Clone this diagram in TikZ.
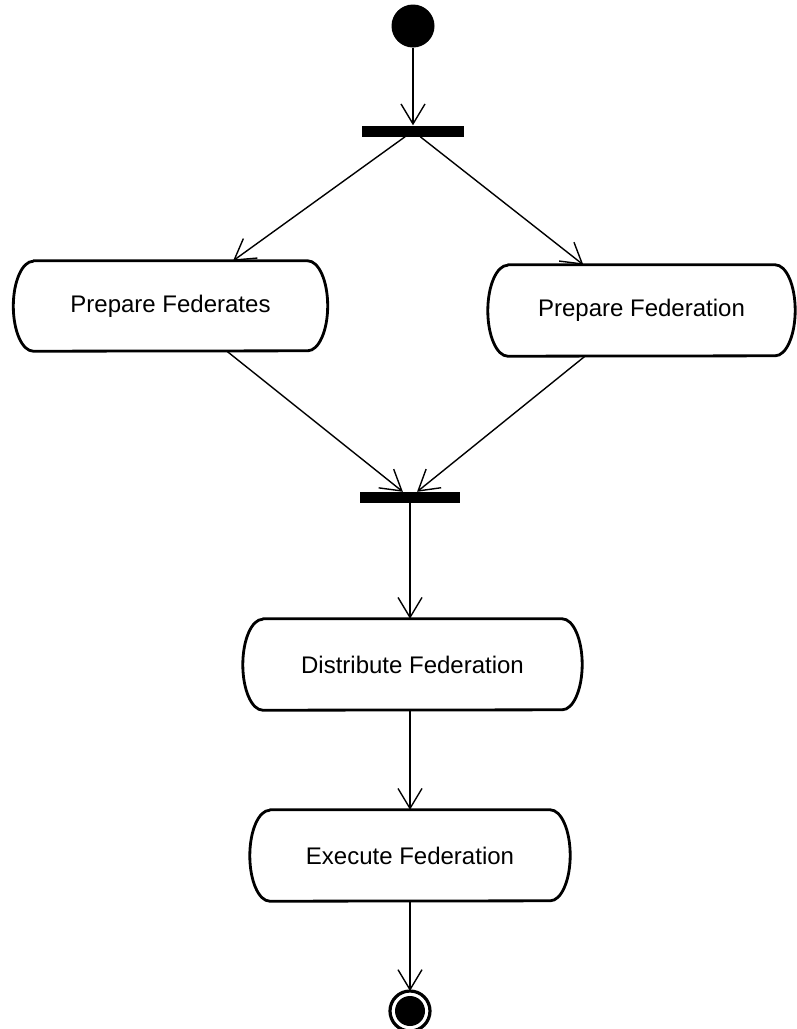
\documentclass[tikz,border=0pt]{standalone}
\usepackage{fontspec}
\setmainfont{Liberation Sans}
\usetikzlibrary{arrows.meta}

\tikzset{
  flow/.style={line width=1.4pt, -{Straight Barb[length=20pt,width=24pt,line width=1.4pt]}},
  outline/.style={line width=2.8pt, line join=round},
  bar/.style={fill=black, draw=none, inner sep=0pt, minimum height=11pt},
  % action node: a box whose sides are half ellipses
  action/.style 2 args={
    inner sep=0pt, minimum width=#1, minimum height=#2,
    font=\fontsize{24}{28}\selectfont,
    append after command={\pgfextra{
      \draw[outline]
        ([xshift=20pt]\tikzlastnode.north west) -- ([xshift=-20pt]\tikzlastnode.north east)
        arc[start angle=90, end angle=-90, x radius=20pt, y radius=#2/2]
        -- ([xshift=20pt]\tikzlastnode.south west)
        arc[start angle=270, end angle=90, x radius=20pt, y radius=#2/2]
        -- cycle;
    }}
  }
}

\begin{document}
\begin{tikzpicture}[x=1pt, y=1pt]
  \useasboundingbox (0,0) rectangle (796,-1029);

  % initial state
  \node[circle, fill=black, inner sep=0pt, minimum size=43pt] (init) at (413,-26) {};

  % fork bar
  \node[bar, minimum width=102pt] (fork) at (413,-131) {};

  % parallel actions
  \node[action={314pt}{90pt}] (pf) at (170.5,-306) {Prepare Federates};
  \node[action={307pt}{91pt}] (pfn) at (641.5,-310.5) {Prepare Federation};

  % join bar
  \node[bar, minimum width=100pt] (join) at (410,-497.5) {};

  % sequential actions
  \node[action={339pt}{91pt}] (dist) at (412.5,-664.5) {Distribute Federation};
  \node[action={320pt}{91pt}] (exec) at (410,-855.5) {Execute Federation};

  % final state
  \node[circle, draw=black, line width=3.2pt, fill=white, inner sep=0pt, minimum size=40pt] (final) at (410,-1011) {};
  \fill[black] (final.center) circle[radius=15pt];

  % control flow
  \draw[flow] (init) -- (fork);
  \draw[flow] (fork) -- (pf);
  \draw[flow] (fork) -- (pfn);
  \draw[flow] (pf) -- (join);
  \draw[flow] (pfn) -- (join);
  \draw[flow] (join.south) -- (join.south |- dist.north);
  \draw[flow] (dist.south -| join.south) -- (join.south |- exec.north);
  \draw[flow] (exec.south -| final.north) -- ([yshift=-1.6pt]final.north);
\end{tikzpicture}
\end{document}
